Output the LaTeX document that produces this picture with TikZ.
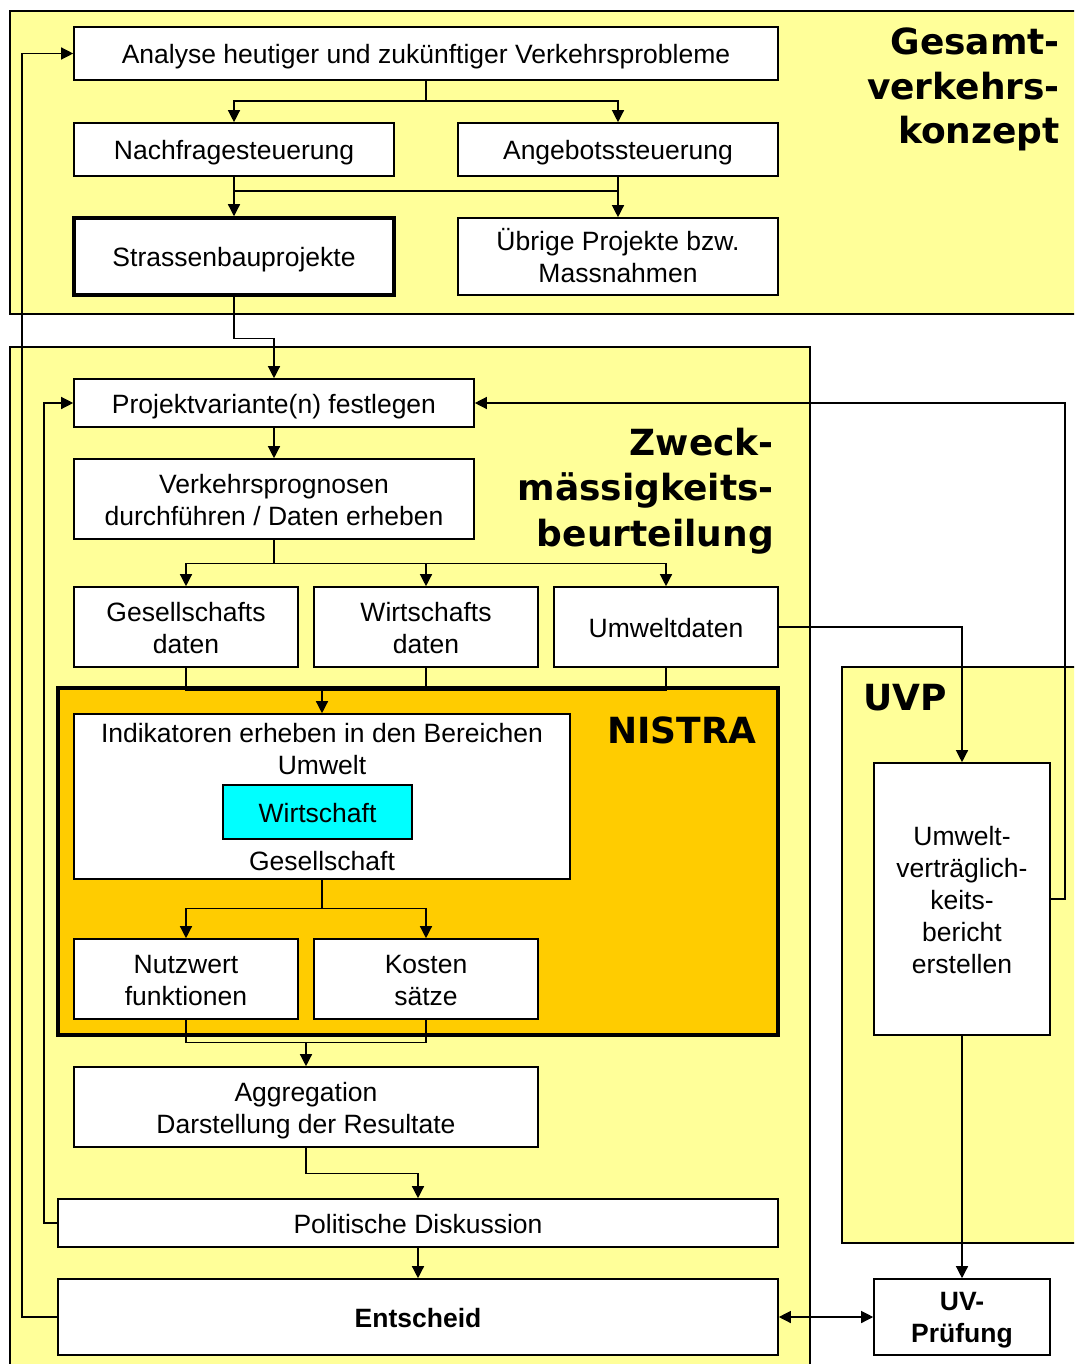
\documentclass[tikz,border=0pt]{standalone}
\usepackage{fontspec}
\setmainfont{Liberation Sans}
\newfontfamily\ttlfont{DejaVu Sans}
\usetikzlibrary{arrows.meta}
\definecolor{paleyellow}{HTML}{FFFF99}
\definecolor{nistraorange}{HTML}{FFCC00}
\definecolor{brightcyan}{HTML}{00FFFF}
\newcommand{\lstrut}{\rule[-4.8pt]{0pt}{30.3pt}}
\tikzset{
  grp/.style={draw=black, fill=paleyellow, line width=2pt},
  box/.style={draw=black, fill=white, line width=1.6pt, rectangle, inner sep=0pt, align=center,
              font=\fontsize{26.5}{32}\selectfont},
  txt/.style={inner sep=0pt, font=\fontsize{26.5}{32}\selectfont},
  ttl/.style={inner sep=0pt, anchor=base east, font=\ttlfont\bfseries\fontsize{36}{45}\selectfont},
  conn/.style={line width=1.3pt},
  arr/.style={conn, -{Triangle[length=12pt,width=12pt]}},
  arrs/.style={conn, {Triangle[length=12pt,width=12pt]}-{Triangle[length=12pt,width=12pt]}},
}
\begin{document}
\begin{tikzpicture}[x=1pt, y=-1pt]
\useasboundingbox (0,0) rectangle (1074,1364);
\clip (0,0) rectangle (1074,1364);
\fill[white] (0,0) rectangle (1074,1364);
% group areas
\draw[grp] (10,11) rectangle (1090,314);
\draw[grp] (10,347) rectangle (810,1390);
\draw[grp] (842,667) rectangle (1090,1243);
\draw[line width=3.5pt, fill=nistraorange] (58,688) rectangle (778,1035);
% titles
\node[ttl] at (1060,55) {Gesamt-};
\node[ttl] at (1060,99.5) {verkehrs-};
\node[ttl] at (1060,144) {konzept};
\node[ttl] at (774,455) {Zweck-};
\node[ttl] at (774,500.5) {mässigkeits-};
\node[ttl] at (774,546) {beurteilung};
\node[ttl] at (757,743) {NISTRA};
\node[ttl] at (947,710) {UVP};
% top block
\node[box, minimum width=704, minimum height=53] (analyse) at (426,53.5) {\lstrut Analyse heutiger und zukünftiger Verkehrsprobleme};
\node[box, minimum width=320, minimum height=53] (nach) at (234,149.5) {\lstrut Nachfragesteuerung};
\node[box, minimum width=320, minimum height=53] (ang) at (618,149.5) {\lstrut Angebotssteuerung};
\node[box, line width=3.5pt, minimum width=320, minimum height=77] (strassen) at (234,256.5) {\lstrut Strassenbauprojekte};
\node[box, minimum width=320, minimum height=77] (ubr) at (618,256.5) {\lstrut Übrige Projekte bzw.\\\lstrut Massnahmen};
% middle block
\node[box, minimum width=400, minimum height=48] (projekt) at (274,403) {\lstrut Projektvariante(n) festlegen};
\node[box, minimum width=400, minimum height=80] (verkehr) at (274,499) {\lstrut Verkehrsprognosen\\\lstrut durchführen / Daten erheben};
\node[box, minimum width=224, minimum height=80] (gdat) at (186,627) {\lstrut Gesellschafts\\\lstrut daten};
\node[box, minimum width=224, minimum height=80] (wdat) at (426,627) {\lstrut Wirtschafts\\\lstrut daten};
\node[box, minimum width=224, minimum height=80] (udat) at (666,627) {\lstrut Umweltdaten};
\node[box, minimum width=496, minimum height=165] (ind) at (322,796.5) {};
\node[txt, anchor=base] (indt1) at (322,742.5) {Indikatoren erheben in den Bereichen};
\node[txt, anchor=base] (indt2) at (322,774) {Umwelt};
\node[box, fill=brightcyan, minimum width=189, minimum height=54] (wirt) at (317.5,812) {\lstrut Wirtschaft};
\node[txt, anchor=base] (indt3) at (322,870) {Gesellschaft};
\node[box, minimum width=224, minimum height=80] (nutz) at (186,979) {\lstrut Nutzwert\\\lstrut funktionen};
\node[box, minimum width=224, minimum height=80] (kost) at (426,979) {\lstrut Kosten\\\lstrut sätze};
\node[box, minimum width=464, minimum height=80] (agg) at (306,1107) {\lstrut Aggregation\\\lstrut Darstellung der Resultate};
\node[box, minimum width=720, minimum height=48] (pol) at (418,1223) {\lstrut Politische Diskussion};
\node[box, minimum width=720, minimum height=76] (ent) at (418,1317) {\lstrut\bfseries Entscheid};
% UVP block
\node[box, minimum width=176, minimum height=272] (uvb) at (962,899) {\lstrut Umwelt-\\\lstrut verträglich-\\\lstrut keits-\\\lstrut bericht\\\lstrut erstellen};
\node[box, minimum width=176, minimum height=76] (uvpr) at (962,1317) {\lstrut\bfseries UV-\\\lstrut\bfseries Prüfung};
% connectors top
\draw[conn] (analyse.south) -- (analyse.south |- 0,101) coordinate (j1);
\draw[arr] (j1) -| (nach.north);
\draw[arr] (j1) -| (ang.north);
\draw[arr] (nach.south) -- (strassen.north);
\draw[arr] (ang.south) -- (ubr.north);
\draw[conn] (nach.south |- 0,191) -- (ang.south |- 0,191);
\draw[arr] (strassen.south) -- ++(0,42) -| (projekt.north);
% connectors middle
\draw[arr] (projekt.south) -- (verkehr.north);
\draw[conn] (verkehr.south) -- ++(0,24) coordinate (j2);
\draw[arr] (j2) -| (gdat.north);
\draw[arr] (j2) -| (wdat.north);
\draw[arr] (j2) -| (udat.north);
\draw[conn] (gdat.south) -- ++(0,23) -| (udat.south);
\draw[conn] (wdat.south) -- (wdat.south |- 0,690);
\draw[arr] (ind.north |- 0,690) -- (ind.north);
\draw[conn] (ind.south) -- ++(0,29) coordinate (j3);
\draw[arr] (j3) -| (nutz.north);
\draw[arr] (j3) -| (kost.north);
\draw[conn] (nutz.south) -- ++(0,23) -| (kost.south);
\draw[arr] (agg.north |- 0,1042) -- (agg.north);
\draw[arr] (agg.south) -- ++(0,26) -| (pol.north);
\draw[arr] (pol.south) -- (ent.north);
% feedback loops
\draw[arr] (ent.west) -- (ent.west -| 22,0) |- (analyse.west);
\draw[arr] (pol.west) -- (pol.west -| 44,0) |- (projekt.west);
\draw[arr] (udat.east) -| (uvb.north);
\draw[arr] (uvb.east) -- (uvb.east -| 1065,0) |- (projekt.east);
\draw[arr] (uvb.south) -- (uvpr.north);
\draw[arrs] (ent.east) -- (uvpr.west);
\end{tikzpicture}
\end{document}
